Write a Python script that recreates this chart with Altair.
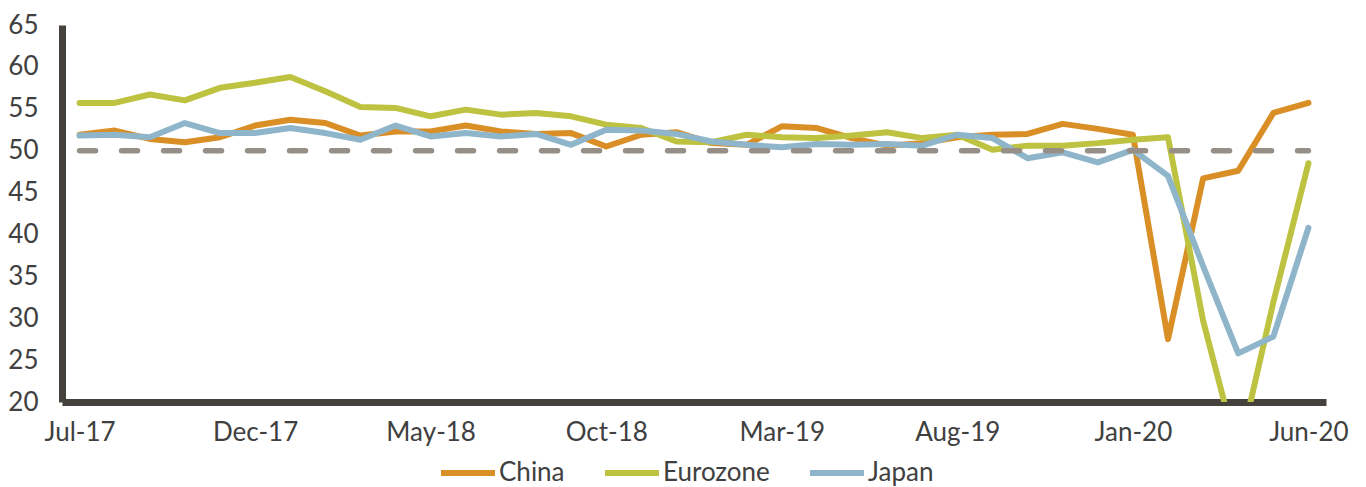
import altair as alt
import pandas as pd

# Composite PMI readings, Jul-17 to Jun-20
months = [
    "Jul-17", "Aug-17", "Sep-17", "Oct-17", "Nov-17", "Dec-17",
    "Jan-18", "Feb-18", "Mar-18", "Apr-18", "May-18", "Jun-18",
    "Jul-18", "Aug-18", "Sep-18", "Oct-18", "Nov-18", "Dec-18",
    "Jan-19", "Feb-19", "Mar-19", "Apr-19", "May-19", "Jun-19",
    "Jul-19", "Aug-19", "Sep-19", "Oct-19", "Nov-19", "Dec-19",
    "Jan-20", "Feb-20", "Mar-20", "Apr-20", "May-20", "Jun-20",
]
china = [
    51.9, 52.4, 51.4, 51.0, 51.6, 53.0, 53.7, 53.3, 51.8, 52.3, 52.3, 53.0,
    52.3, 52.0, 52.1, 50.5, 51.9, 52.2, 50.9, 50.7, 52.9, 52.7, 51.5, 50.6,
    50.9, 51.6, 51.9, 52.0, 53.2, 52.6, 51.9, 27.5, 46.7, 47.6, 54.5, 55.7,
]
eurozone = [
    55.7, 55.7, 56.7, 56.0, 57.5, 58.1, 58.8, 57.1, 55.2, 55.1, 54.1, 54.9,
    54.3, 54.5, 54.1, 53.1, 52.7, 51.1, 51.0, 51.9, 51.6, 51.5, 51.8, 52.2,
    51.5, 51.9, 50.1, 50.6, 50.6, 50.9, 51.3, 51.6, 29.7, 13.6, 31.9, 48.5,
]
japan = [
    51.8, 51.9, 51.6, 53.3, 52.1, 52.1, 52.7, 52.1, 51.3, 53.0, 51.7, 52.1,
    51.7, 52.0, 50.7, 52.5, 52.4, 52.0, 51.1, 50.7, 50.4, 50.8, 50.7, 50.8,
    50.6, 51.9, 51.5, 49.1, 49.8, 48.6, 50.1, 47.0, 36.2, 25.8, 27.8, 40.8,
]
series_names = ["China", "Eurozone", "Japan"]
series_colors = ["#d98f25", "#bdc240", "#8fb5ca"]
threshold = 50
y_ticks = [20, 25, 30, 35, 40, 45, 50, 55, 60, 65]
x_tick_labels = months[::5]

FONT = "Lato"
TEXT = "#404040"
AXIS = "#45423d"
FONT_SIZE = 26

df = pd.DataFrame({
    "month": months * 3,
    "value": china + eurozone + japan,
    "series": [s for s in series_names for _ in months],
})
ref = pd.DataFrame({"month": months, "value": [threshold] * len(months)})

x_enc = alt.X(
    "month:O",
    sort=months,
    scale=alt.Scale(type="point", padding=0.5),
    axis=alt.Axis(values=x_tick_labels, labelAngle=0, labelPadding=17),
    title=None,
)
y_enc = alt.Y(
    "value:Q",
    scale=alt.Scale(domain=[20, 65], nice=False, zero=False),
    axis=alt.Axis(values=y_ticks, labelPadding=24),
    title=None,
)

lines = alt.Chart(df).mark_line(
    strokeWidth=6, strokeCap="round", strokeJoin="round", clip=True
).encode(
    x=x_enc,
    y=y_enc,
    color=alt.Color(
        "series:N",
        scale=alt.Scale(domain=series_names, range=series_colors),
        legend=alt.Legend(
            title=None,
            orient="none",
            direction="horizontal",
            legendX=376,
            legendY=418,
            symbolType="stroke",
            symbolSize=2916,
            symbolStrokeWidth=6,
            labelOffset=1,
            columnPadding=28,
            padding=0,
            labelFont=FONT,
            labelFontSize=FONT_SIZE,
            labelColor=TEXT,
        ),
    ),
)

# dashed 50 line: expansion / contraction threshold
threshold_line = alt.Chart(ref).mark_line(
    color="#958f88", strokeWidth=5.5, strokeDash=[16, 26], strokeCap="round"
).encode(x=alt.X("month:O", sort=months), y="value:Q")

chart = (
    alt.layer(lines, threshold_line)
    .properties(
        width=1264,
        height=377,
        autosize=alt.AutoSizeParams(type="none"),
        padding={"left": 62, "top": 25, "right": 40, "bottom": 85},
    )
    .configure_view(stroke=None)
    .configure_axis(
        domainColor=AXIS,
        domainWidth=7,
        ticks=False,
        grid=False,
        labelFont=FONT,
        labelFontSize=FONT_SIZE,
        labelColor=TEXT,
    )
)

chart.save("out.html", embed_options={"renderer": "svg", "actions": False})
